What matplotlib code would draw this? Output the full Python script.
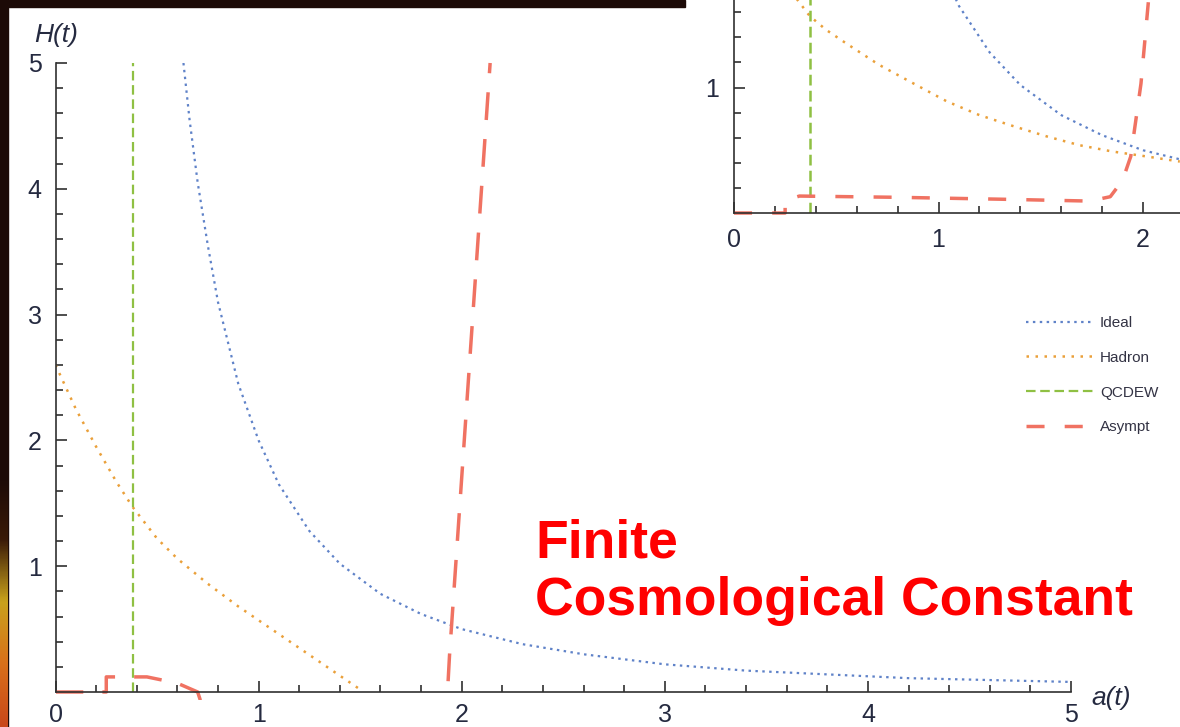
import numpy as np
import matplotlib
matplotlib.use("Agg")
import matplotlib.pyplot as plt
from matplotlib.patches import Rectangle
from matplotlib.ticker import MultipleLocator, FixedLocator
from matplotlib.colors import LinearSegmentedColormap

plt.rcParams['font.family'] = ['Liberation Sans', 'DejaVu Sans']

###################################
# values
###################################
# main plot, H(t) vs a(t)
ideal_a = [0.63, 0.66, 0.70, 0.75, 0.80, 0.90, 1.00, 1.10, 1.25, 1.40, 1.60,
           1.80, 2.00, 2.30, 2.60, 3.00, 3.40, 3.80, 4.20, 4.60, 5.00]
ideal_H = [5.00, 4.55, 4.05, 3.55, 3.10, 2.45, 2.00, 1.65, 1.28, 1.02, 0.78,
           0.62, 0.50, 0.38, 0.30, 0.22, 0.17, 0.14, 0.11, 0.095, 0.08]

hadron_a = [0.0, 0.1, 0.2, 0.3, 0.38, 0.5, 0.6, 0.75, 0.9, 1.0, 1.1, 1.2, 1.3, 1.4, 1.5]
hadron_H = [2.6, 2.25, 1.95, 1.67, 1.47, 1.22, 1.06, 0.86, 0.68, 0.57, 0.46, 0.35, 0.24, 0.13, 0.02]

qcdew_a = [0.38, 0.38]
qcdew_H = [0.0, 5.0]

# drops below the axis between ~0.7 and ~1.9 (not seen in the picture)
asympt_a = [0.0, 0.25, 0.25, 0.45, 0.60, 0.70, 0.76, 1.92, 1.94, 2.14]
asympt_H = [0.0, 0.0, 0.12, 0.12, 0.07, 0.0, -0.3, -0.3, 0.29, 5.0]

# inset (zoom of the low H region, other run)
in_hadron_a = [0.30, 0.37, 0.45, 0.55, 0.71, 0.88, 1.04, 1.20, 1.37, 1.53, 1.69, 1.85, 2.02, 2.18]
in_hadron_H = [1.72, 1.57, 1.46, 1.35, 1.18, 1.03, 0.89, 0.78, 0.69, 0.61, 0.54, 0.49, 0.45, 0.41]

in_qcdew_a = [0.37, 0.37]
in_qcdew_H = [0.0, 1.8]

in_asympt_a = [0.0, 0.25, 0.25, 0.32, 0.80, 1.30, 1.74, 1.84, 1.90, 1.94, 1.99, 2.03]
in_asympt_H = [0.0, 0.0, 0.10, 0.135, 0.125, 0.11, 0.095, 0.13, 0.26, 0.45, 1.03, 1.75]

labels = ["Ideal", "Hadron", "QCDEW", "Asympt"]

# styles
c_ideal = '#5f82c8'
c_hadron = '#eaa03a'
c_qcd = '#8fc043'
c_asym = '#f07262'
txt_col = '#252a40'
ls_ideal = (0, (1.1, 2.0))
ls_hadron = (0, (1, 2.6))
ls_qcd = (0, (4.3, 2.1))

W, Hpx = 1180, 727
fig = plt.figure(figsize=(W / 100, Hpx / 100), dpi=100)
fig.patch.set_facecolor('white')

# dark slide border round the pasted plot
fig.add_artist(Rectangle((0, 0), 8 / W, 1, transform=fig.transFigure,
                         color='#1c0a07', zorder=0))
fig.add_artist(Rectangle((0, 1 - 7 / Hpx), 685 / W, 7 / Hpx, transform=fig.transFigure,
                         color='#1c0a07', zorder=0))
# bit of the orange/yellow slide background bottom left
glow = LinearSegmentedColormap.from_list('glow', ['#1c0a07', '#3a1a08', '#c9a21c', '#d9701a', '#c8481a'])
axg = fig.add_axes([0, 0, 8 / W, 250 / Hpx])
axg.imshow(np.linspace(0, 1, 100).reshape(-1, 1), aspect='auto', cmap=glow)
axg.axis('off')

###################################
# main plot
###################################
ax = fig.add_axes([55.5 / W, 35 / Hpx, (1071 - 55.5) / W, (692 - 63) / Hpx])
ax.set_xlim(0, 5)
ax.set_ylim(0, 5)
for s in ['top', 'right']:
    ax.spines[s].set_visible(False)
for s in ['left', 'bottom']:
    ax.spines[s].set_color('#303030')
    ax.spines[s].set_linewidth(1.2)
ax.xaxis.set_major_locator(MultipleLocator(1))
ax.xaxis.set_minor_locator(MultipleLocator(0.2))
ax.yaxis.set_major_locator(FixedLocator([1, 2, 3, 4, 5]))
ax.yaxis.set_minor_locator(MultipleLocator(0.2))
ax.tick_params(which='both', direction='in', top=False, right=False,
               color='#303030', width=1.2, labelcolor=txt_col)
ax.tick_params(which='major', length=8, labelsize=18, pad=10)
ax.tick_params(axis='x', which='major', pad=8)
ax.tick_params(which='minor', length=5)

ax.plot(ideal_a, ideal_H, color=c_ideal, lw=1.6, linestyle=ls_ideal)
ax.plot(hadron_a, hadron_H, color=c_hadron, lw=1.8, linestyle=ls_hadron)
ax.plot(qcdew_a, qcdew_H, color=c_qcd, lw=1.6, linestyle=ls_qcd)
line_as, = ax.plot(asympt_a, asympt_H, color=c_asym, lw=2.5, linestyle=(0, (8, 5.5)))
# let the part lying on the axis show below it, but not the negative stretch
line_as.set_clip_path(Rectangle((0, -0.012), 1, 1.03, transform=ax.transAxes))

fig.text(56 / W, 1 - 35 / Hpx, 'H(t)', style='italic', fontsize=19,
         color=txt_col, ha='center', va='center')
fig.text(1111 / W, 1 - 698 / Hpx, 'a(t)', style='italic', fontsize=19,
         color=txt_col, ha='center', va='center')

###################################
# inset, top right, cut off by the slide edge
###################################
axi = fig.add_axes([734 / W, 1 - 213 / Hpx, (W - 734) / W, 213 / Hpx])
axi.set_facecolor('white')
axi.set_xlim(0, (W - 734) / 204.5)
axi.set_ylim(0, 213 / 125.5)
for s in ['top', 'right']:
    axi.spines[s].set_visible(False)
for s in ['left', 'bottom']:
    axi.spines[s].set_color('#303030')
    axi.spines[s].set_linewidth(1.2)
axi.xaxis.set_major_locator(MultipleLocator(1))
axi.xaxis.set_minor_locator(MultipleLocator(0.2))
axi.yaxis.set_major_locator(FixedLocator([1]))
axi.yaxis.set_minor_locator(MultipleLocator(0.2))
axi.tick_params(which='both', direction='in', top=False, right=False,
                color='#303030', width=1.2, labelcolor=txt_col)
axi.tick_params(which='major', length=8, labelsize=18, pad=11)
axi.tick_params(which='minor', length=5)

axi.plot(ideal_a, ideal_H, color=c_ideal, lw=1.6, linestyle=ls_ideal)
axi.plot(in_hadron_a, in_hadron_H, color=c_hadron, lw=1.8, linestyle=ls_hadron)
axi.plot(in_qcdew_a, in_qcdew_H, color=c_qcd, lw=1.8, linestyle=ls_qcd)
axi.plot(in_asympt_a, in_asympt_H, color=c_asym, lw=2.5, linestyle=(0, (5.2, 5.8)), clip_on=False)

# legend sits under the inset
handles = [
    plt.Line2D([], [], color=c_ideal, lw=1.6, linestyle=ls_ideal),
    plt.Line2D([], [], color=c_hadron, lw=1.8, linestyle=ls_hadron),
    plt.Line2D([], [], color=c_qcd, lw=1.6, linestyle=ls_qcd),
    plt.Line2D([], [], color=c_asym, lw=2.5, linestyle=(0, (5.2, 5.8))),
]
fig.legend(handles, labels, loc='upper left', bbox_to_anchor=(1026 / W, 1 - 316 / Hpx),
           frameon=False, fontsize=11, handlelength=4.4, handletextpad=0.45,
           labelspacing=1.36, borderpad=0, borderaxespad=0, labelcolor='#333344')

# red slide caption
fig.text(535 / W, 1 - 558 / Hpx, 'Finite', color='#ff0000', fontsize=38.5,
         fontweight='bold', ha='left', va='baseline')
fig.text(535 / W, 1 - 615 / Hpx, 'Cosmological Constant', color='#ff0000', fontsize=38.5,
         fontweight='bold', ha='left', va='baseline')

fig.savefig('out.png', dpi=100, facecolor=fig.get_facecolor())
